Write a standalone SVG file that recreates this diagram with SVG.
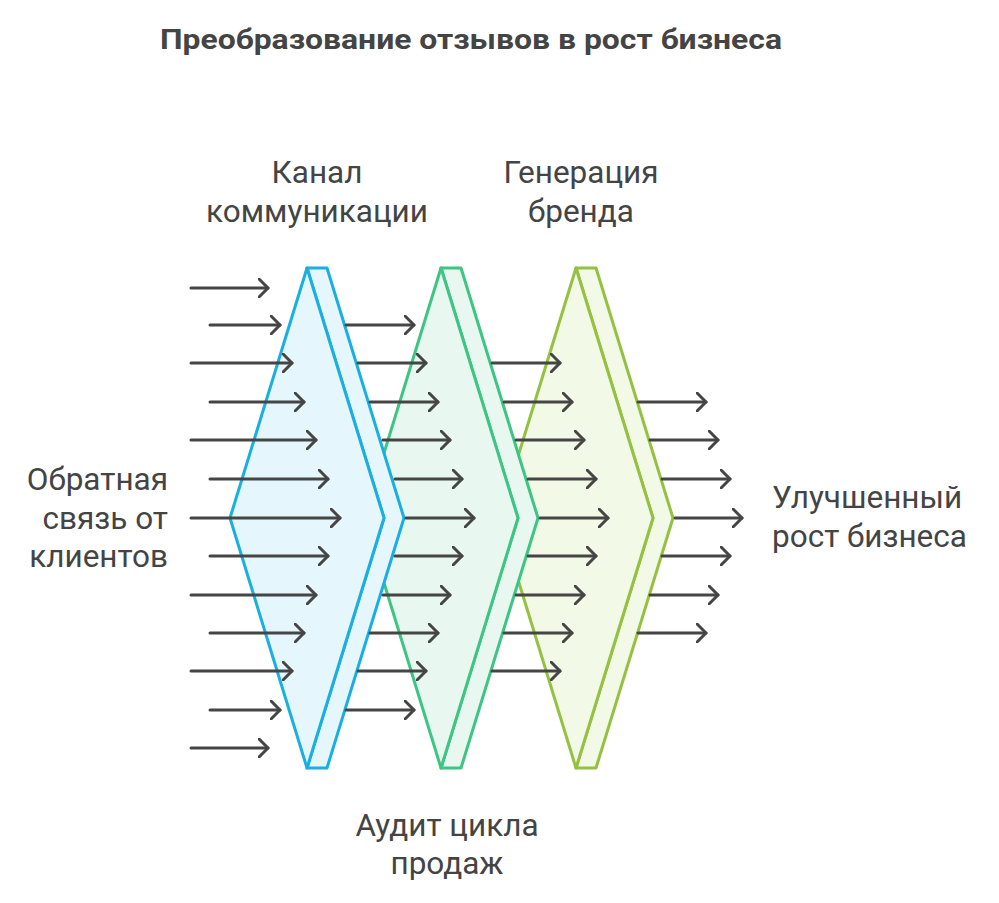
<svg xmlns="http://www.w3.org/2000/svg" width="999" height="903" viewBox="0 0 999 903">
<style>
text{font-family:Roboto,"Liberation Sans",sans-serif;fill:#444;font-size:31.5px}
.t{font-weight:bold;font-size:28px}
.a{stroke:#454545;stroke-width:3;fill:none;stroke-linecap:round;stroke-linejoin:round}
.s{stroke-width:3;stroke-linejoin:round}
</style>
<defs><marker id="h" markerWidth="12" markerHeight="20" refX="10" refY="10" orient="auto" markerUnits="userSpaceOnUse"><path d="M0,0 L10,10 L0,20" class="a"/></marker></defs>
<rect width="999" height="903" fill="#fff"/>
<text class="t" x="471" y="49" text-anchor="middle" textLength="622" lengthAdjust="spacingAndGlyphs">Преобразование отзывов в рост бизнеса</text>
<g id="lens3"><path class="s" d="M576,268 L596,268 L673,518 L596,768 L576,768 L653,518Z" fill="#f2f9e6" stroke="#94c140"/><path class="s" d="M576,268 L653,518 L576,768 L499,518Z" fill="#f2f9e6" stroke="#94c140"/></g>
<g id="lens2"><path class="s" d="M441,268 L461,268 L538,518 L461,768 L441,768 L518,518Z" fill="#e8f8f1" stroke="#3cc583"/><path class="s" d="M441,268 L518,518 L441,768 L364,518Z" fill="#e8f8f1" stroke="#3cc583"/></g>
<g id="lens1"><path class="s" d="M307,268 L327,268 L404,518 L327,768 L307,768 L384,518Z" fill="#e5f7fd" stroke="#1aafe0"/><path class="s" d="M307,268 L384,518 L307,768 L230,518Z" fill="#e5f7fd" stroke="#1aafe0"/></g>
<g id="connectors" class="a" marker-end="url(#h)">
<path d="M191,288H268"/><path d="M210,325H280"/><path d="M191,363H292"/><path d="M210,402H304"/><path d="M191,440H316"/><path d="M210,479H328"/><path d="M191,518H340"/><path d="M210,556H328"/><path d="M191,595H316"/><path d="M210,633H304"/><path d="M191,671H292"/><path d="M210,710H280"/><path d="M191,748H268"/>
<path d="M346,325H414"/><path d="M358,363H426"/><path d="M370,402H438"/><path d="M383,440H450"/><path d="M395,479H462"/><path d="M406,518H474"/><path d="M395,556H462"/><path d="M383,595H450"/><path d="M370,633H438"/><path d="M358,671H426"/><path d="M346,710H414"/>
<path d="M492,363H560"/><path d="M504,402H572"/><path d="M516,440H584"/><path d="M528,479H596"/><path d="M540,518H608"/><path d="M528,556H596"/><path d="M516,595H584"/><path d="M504,633H572"/><path d="M492,671H560"/>
<path d="M638,402H706"/><path d="M650,440H718"/><path d="M662,479H730"/><path d="M675,518H742"/><path d="M662,556H730"/><path d="M650,595H718"/><path d="M638,633H706"/>
</g>
<g id="labels">
<text x="317" y="183" text-anchor="middle">Канал</text><text x="317" y="222" text-anchor="middle">коммуникации</text>
<text x="581" y="183" text-anchor="middle">Генерация</text><text x="581" y="222" text-anchor="middle">бренда</text>
<text x="168" y="490" text-anchor="end">Обратная</text><text x="168" y="529" text-anchor="end">связь от</text><text x="168" y="567" text-anchor="end">клиентов</text>
<text x="772" y="508">Улучшенный</text><text x="772" y="547">рост бизнеса</text>
<text x="447" y="836" text-anchor="middle">Аудит цикла</text><text x="447" y="874" text-anchor="middle">продаж</text>
</g>
</svg>
